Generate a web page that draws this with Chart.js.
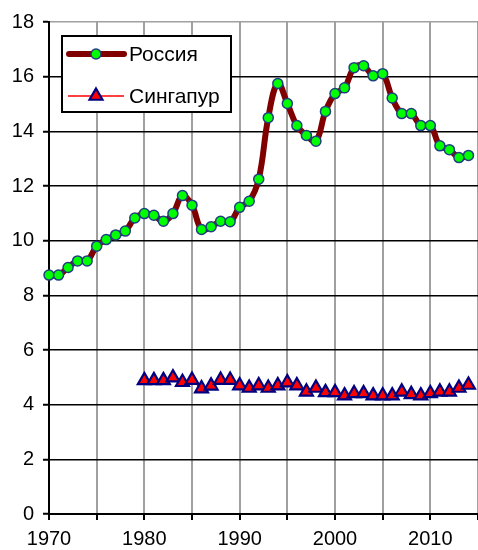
<!DOCTYPE html>
<html>
<head>
<meta charset="utf-8">
<script src="https://cdn.jsdelivr.net/npm/chart.js@4"></script>
<style>
html,body{margin:0;padding:0;background:#fff;overflow:hidden;}
canvas{display:block;}
</style>
</head>
<body>
<canvas id="c" width="478" height="550" style="width:478px;height:550px"></canvas>
<script>
const russiaYears = [1970,1971,1972,1973,1974,1975,1976,1977,1978,1979,1980,1981,1982,1983,1984,1985,1986,1987,1988,1989,1990,1991,1992,1993,1994,1995,1996,1997,1998,1999,2000,2001,2002,2003,2004,2005,2006,2007,2008,2009,2010,2011,2012,2013,2014];
const russiaValues = [8.74,8.74,9.02,9.26,9.26,9.80,10.04,10.21,10.35,10.83,10.99,10.93,10.71,10.99,11.65,11.30,10.41,10.51,10.71,10.69,11.22,11.44,12.25,14.50,15.75,15.02,14.21,13.85,13.64,14.73,15.38,15.59,16.33,16.40,16.03,16.11,15.22,14.65,14.65,14.21,14.21,13.47,13.33,13.04,13.12];
const singaporeYears = [1980,1981,1982,1983,1984,1985,1986,1987,1988,1989,1990,1991,1992,1993,1994,1995,1996,1997,1998,1999,2000,2001,2002,2003,2004,2005,2006,2007,2008,2009,2010,2011,2012,2013,2014];
const singaporeValues = [4.89,4.89,4.89,4.99,4.82,4.90,4.59,4.69,4.90,4.90,4.70,4.61,4.70,4.61,4.70,4.81,4.70,4.47,4.61,4.45,4.45,4.33,4.41,4.41,4.33,4.33,4.33,4.47,4.38,4.33,4.41,4.47,4.47,4.61,4.72];
const seriesNames = ['Россия','Сингапур'];
const xLabelYears = [1970,1980,1990,2000,2010];

const FONT = '"Liberation Sans", Arial, sans-serif';

const legendPlugin = {
  id: 'boxLegend',
  afterDraw(chart) {
    const ctx = chart.ctx;
    const ds = chart.data.datasets;
    ctx.save();
    ctx.fillStyle = '#ffffff';
    ctx.fillRect(62, 36, 169, 76);
    ctx.strokeStyle = '#000000';
    ctx.lineWidth = 2;
    ctx.strokeRect(62, 36, 169, 76);
    const rows = [54, 96];
    ds.forEach((d, i) => {
      const y = rows[i];
      ctx.beginPath();
      ctx.strokeStyle = d.borderColor;
      ctx.lineWidth = d.borderWidth;
      ctx.lineCap = i === 0 ? 'round' : 'butt';
      ctx.moveTo(i === 0 ? 69 : 68, y);
      ctx.lineTo(124, y);
      ctx.stroke();
      ctx.fillStyle = d.pointBackgroundColor;
      ctx.strokeStyle = d.pointBorderColor;
      ctx.lineWidth = d.pointBorderWidth;
      ctx.lineCap = 'butt';
      ctx.lineJoin = 'miter';
      ctx.beginPath();
      if (d.pointStyle === 'circle') {
        ctx.arc(96, y, d.pointRadius, 0, Math.PI * 2);
      } else {
        const r = d.pointRadius;
        ctx.moveTo(96, y - r);
        ctx.lineTo(96 + r * Math.sin(Math.PI / 3), y + r / 2);
        ctx.lineTo(96 - r * Math.sin(Math.PI / 3), y + r / 2);
        ctx.closePath();
      }
      ctx.fill();
      ctx.stroke();
      ctx.fillStyle = '#000000';
      ctx.font = '21px ' + FONT;
      ctx.textBaseline = 'middle';
      ctx.textAlign = 'left';
      ctx.fillText(d.label, 129, y + 1);
    });
    ctx.restore();
  }
};

new Chart(document.getElementById('c'), {
  type: 'line',
  data: {
    datasets: [
      {
        label: seriesNames[0],
        data: russiaYears.map((x, i) => ({x: x, y: russiaValues[i]})),
        borderColor: '#800000',
        borderWidth: 6,
        tension: 0.4,
        pointStyle: 'circle',
        pointRadius: 5,
        pointBackgroundColor: '#00ff00',
        pointBorderColor: '#1f3f7f',
        pointBorderWidth: 1.5,
        order: 0
      },
      {
        label: seriesNames[1],
        data: singaporeYears.map((x, i) => ({x: x, y: singaporeValues[i]})),
        borderColor: '#ff0000',
        borderWidth: 1.5,
        tension: 0.3,
        pointStyle: 'triangle',
        pointRadius: 7.5,
        pointBackgroundColor: '#ff0000',
        pointBorderColor: '#000080',
        pointBorderWidth: 2.2,
        order: 1
      }
    ]
  },
  options: {
    responsive: false,
    maintainAspectRatio: false,
    devicePixelRatio: 1,
    animation: false,
    clip: false,
    layout: {autoPadding: false, padding: {top: 22, right: 0, bottom: 0, left: 0}},
    plugins: {legend: {display: false}, tooltip: {enabled: false}},
    scales: {
      x: {
        type: 'linear',
        min: 1970,
        max: 2015,
        afterFit(s) { s.height = 36; s.paddingRight = 0; s.paddingLeft = 0; },
        ticks: {
          stepSize: 5,
          autoSkip: false,
          maxRotation: 0,
          padding: 7,
          color: '#000',
          font: {family: FONT, size: 20},
          callback: v => xLabelYears.includes(v) ? String(v) : ''
        },
        grid: {
          color: '#a0a0a0',
          lineWidth: 2,
          tickLength: 6,
          tickColor: '#000',
          tickWidth: 2
        },
        border: {color: '#000', width: 2}
      },
      y: {
        min: 0,
        max: 18,
        afterFit(s) { s.width = 49; s.paddingTop = 0; s.paddingBottom = 0; },
        ticks: {
          stepSize: 2,
          padding: 9,
          color: '#000',
          font: {family: FONT, size: 20}
        },
        grid: {
          color: c => c.tick && c.tick.value === 18 ? '#a0a0a0' : '#000',
          lineWidth: 1.5,
          tickLength: 6,
          tickColor: '#000',
          tickWidth: 2
        },
        border: {color: '#000', width: 2}
      }
    }
  },
  plugins: [legendPlugin]
});
</script>
</body>
</html>
